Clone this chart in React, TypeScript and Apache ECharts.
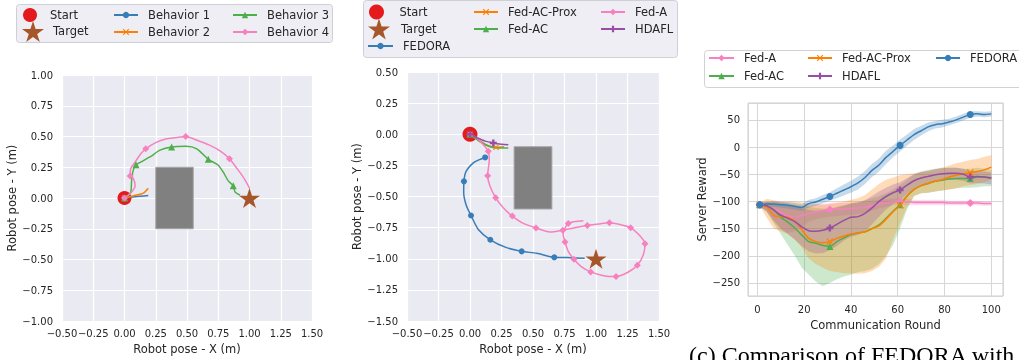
import React, { useEffect, useRef } from "react";
import * as echarts from "echarts";

// ---------- shared symbols / colours ----------
const STAR = "path://M50,0L61.23,34.55L97.55,34.55L68.17,55.9L79.39,90.45L50,69.1L20.61,90.45L31.83,55.9L2.45,34.55L38.77,34.55Z";
const PLUS = "path://M33,0H67V33H100V67H67V100H33V67H0V33H33Z";
const XMARK = "path://M0,12L12,0L50,38L88,0L100,12L62,50L100,88L88,100L50,62L12,100L0,88L38,50Z";
const COL = { blue: "#377eb8", orange: "#ff7f00", green: "#4daf4a", purple: "#984ea3", pink: "#f781bf", red: "#e41a1c", brown: "#a65628" };

// ---------- panel (a): behaviours ----------
const startA = [[0, 0]];
const targetA = [[1, 0]];
const obstacleA = [[0.25, 0.25], [0.55, -0.25]];
const behavior1 = [[0, 0], [0.08, 0.01], [0.19, 0.02]];
const behavior1Marks = [0];
const behavior2 = [[0, 0], [0.08, 0.02], [0.15, 0.04], [0.19, 0.08]];
const behavior2Marks = [0];
const behavior3 = [[0, 0], [0.05, 0.05], [0.057, 0.146], [0.07, 0.227], [0.092, 0.27], [0.204, 0.334], [0.284, 0.389], [0.377, 0.415], [0.492, 0.42], [0.578, 0.4], [0.67, 0.315], [0.75, 0.267], [0.79, 0.21], [0.83, 0.14], [0.87, 0.1], [0.884, 0.05], [0.924, 0.024]];
const behavior3Marks = [0, 4, 7, 10, 14];
const behavior4 = [[0, 0], [0.05, 0.04], [0.085, 0.1], [0.07, 0.16], [0.045, 0.18], [0.05, 0.24], [0.09, 0.3], [0.13, 0.36], [0.17, 0.4], [0.25, 0.45], [0.33, 0.48], [0.41, 0.49], [0.49, 0.5], [0.58, 0.47], [0.68, 0.43], [0.77, 0.38], [0.84, 0.32], [0.9, 0.24], [0.95, 0.17], [0.99, 0.1], [1.0, 0.08]];
const behavior4Marks = [0, 4, 8, 12, 16];

// ---------- panel (b): methods trajectories ----------
const startB = [[0, 0]];
const targetB = [[1, -1]];
const obstacleB = [[0.35, -0.1], [0.65, -0.6]];
const trajFedora = [[0.12, -0.186], [0.07, -0.205], [0.026, -0.23], [-0.032, -0.3], [-0.048, -0.378], [-0.05, -0.47], [-0.03, -0.57], [0.008, -0.652], [0.066, -0.764], [0.161, -0.847], [0.29, -0.91], [0.41, -0.94], [0.53, -0.956], [0.669, -0.988], [0.77, -0.99], [0.91, -0.996]];
const trajFedoraMarks = [0, 4, 7, 9, 11, 13];
const trajProx = [[0, 0], [0.07, -0.05], [0.14, -0.09], [0.206, -0.105], [0.27, -0.1]];
const trajProxMarks = [0, 3];
const trajFedAC = [[0, 0], [0.08, -0.06], [0.16, -0.1], [0.23, -0.11], [0.304, -0.11]];
const trajFedACMarks = [0];
const trajFedA = [[0, 0], [0.053, -0.03], [0.106, -0.084], [0.145, -0.137], [0.153, -0.204], [0.14, -0.332], [0.159, -0.418], [0.204, -0.51], [0.264, -0.59], [0.336, -0.657], [0.423, -0.716], [0.524, -0.753], [0.635, -0.785], [0.736, -0.77], [0.83, -0.75], [0.931, -0.732], [1.02, -0.72], [1.106, -0.711], [1.19, -0.725], [1.275, -0.751], [1.345, -0.81], [1.389, -0.879], [1.375, -0.97], [1.328, -1.052], [1.25, -1.11], [1.159, -1.142], [1.06, -1.135], [0.958, -1.105], [0.88, -1.06], [0.825, -1.004], [0.78, -0.94], [0.754, -0.865], [0.74, -0.8], [0.78, -0.716], [0.9, -0.695]];
const trajFedAMarks = [0, 3, 5, 7, 9, 11, 13, 15, 17, 19, 21, 23, 25, 27, 29, 31, 33];
const trajHdafl = [[0, 0], [0.06, -0.03], [0.12, -0.055], [0.185, -0.07], [0.25, -0.08], [0.304, -0.085]];
const trajHdaflMarks = [0, 3];

// ---------- panel (c): server reward ----------
const rounds = [1, 4, 7, 10, 13, 16, 19, 22, 25, 28, 31, 34, 37, 40, 43, 46, 49, 52, 55, 58, 61, 64, 67, 70, 73, 76, 79, 82, 85, 88, 91, 94, 97, 100];
const rewardMarks = [0, 10, 20, 30];
const fedoraMean = [-106, -105, -105, -106, -107, -109, -111, -104, -101, -96, -91, -85, -79, -73, -66, -56, -43, -33, -19, -8, 3, 13, 23, 30, 37, 41, 43, 46, 50, 55, 60, 61, 60, 61];
const fedoraLo = [-109, -109, -110, -111, -113, -115, -117, -111, -108, -104, -99, -94, -89, -84, -78, -68, -55, -45, -31, -19, -8, 3, 13, 21, 29, 34, 36, 40, 44, 49, 54, 56, 55, 56];
const fedoraHi = [-103, -101, -100, -101, -101, -103, -105, -97, -94, -88, -83, -76, -69, -62, -54, -44, -31, -21, -7, 3, 14, 23, 33, 39, 45, 48, 50, 52, 56, 61, 66, 66, 65, 66];
const fedAMean = [-106, -108, -113, -120, -127, -129, -126, -122, -119, -117, -115, -114, -114, -113, -112, -111, -108, -105, -103, -101, -100, -101, -102, -102, -102, -102, -102, -103, -103, -103, -103, -103, -104, -104];
const fedALo = [-109, -118, -138, -152, -158, -155, -146, -138, -133, -130, -128, -127, -126, -125, -123, -121, -117, -113, -110, -107, -106, -107, -107, -107, -107, -107, -107, -107, -107, -107, -107, -107, -108, -108];
const fedAHi = [-103, -101, -100, -100, -104, -108, -110, -108, -106, -105, -103, -102, -103, -102, -101, -101, -99, -97, -96, -95, -94, -95, -97, -97, -97, -97, -97, -99, -99, -99, -99, -99, -100, -100];
const fedACMean = [-106, -108, -115, -129, -138, -149, -162, -174, -177, -181, -183, -174, -167, -161, -158, -156, -150, -143, -131, -118, -106, -90, -78, -71, -67, -63, -61, -59, -58, -58, -58, -55, -55, -57];
const fedACLo = [-108, -120, -140, -160, -180, -200, -222, -235, -248, -256, -250, -243, -238, -235, -230, -228, -224, -215, -200, -180, -150, -115, -90, -85, -84, -82, -80, -78, -76, -75, -75, -74, -72, -72];
const fedACHi = [-104, -100, -100, -102, -104, -106, -108, -110, -112, -113, -113, -110, -107, -104, -102, -98, -94, -90, -85, -78, -70, -60, -50, -45, -42, -40, -38, -38, -38, -40, -40, -38, -40, -42];
const proxMean = [-106, -110, -126, -128, -129, -136, -152, -168, -174, -176, -174, -168, -164, -160, -158, -156, -150, -145, -133, -119, -107, -90, -78, -71, -67, -63, -60, -55, -52, -49, -47, -45, -42, -37];
const proxLo = [-108, -130, -150, -155, -160, -170, -185, -205, -215, -222, -228, -230, -232, -232, -233, -232, -228, -220, -205, -170, -140, -110, -90, -85, -84, -82, -80, -78, -76, -72, -70, -68, -65, -60];
const proxHi = [-104, -95, -98, -100, -100, -100, -102, -103, -105, -106, -105, -103, -100, -97, -94, -88, -78, -68, -60, -56, -52, -50, -48, -46, -44, -41, -38, -34, -30, -27, -24, -22, -18, -15];
const hdaflMean = [-106, -108, -116, -125, -131, -137, -147, -154, -155, -153, -149, -142, -135, -129, -128, -122, -112, -100, -91, -84, -79, -70, -62, -57, -54, -51, -49, -48, -48, -50, -55, -54, -55, -57];
const hdaflLo = [-109, -118, -135, -150, -160, -170, -182, -192, -196, -195, -190, -182, -172, -165, -162, -155, -142, -128, -115, -105, -98, -86, -76, -70, -66, -63, -61, -60, -60, -62, -67, -66, -67, -69];
const hdaflHi = [-103, -102, -104, -106, -108, -110, -113, -116, -117, -116, -114, -111, -108, -104, -102, -98, -90, -82, -75, -69, -65, -57, -50, -46, -44, -41, -39, -38, -38, -40, -45, -44, -45, -47];

const FONT = "DejaVu Sans";
const INK = "#262626";
const BAND_ALPHA = 0.28;

const fmt2 = (v: number) => (v < -1e-9 ? "\u2212" : "") + Math.abs(v).toFixed(2);
const fmtInt = (v: number) => (v < -1e-9 ? "\u2212" : "") + String(Math.abs(Math.round(v)));

function traj(name: string, pts: number[][], marks: number[], color: string, symbol: string, size: number, gi: number, z = 3): any {
  return {
    type: "line", name, xAxisIndex: gi, yAxisIndex: gi, data: pts, smooth: 0.25,
    symbol, symbolSize: (_v: any, p: any) => (marks.indexOf(p.dataIndex) >= 0 ? size : 0),
    showSymbol: true, showAllSymbol: true, symbolKeepAspect: true,
    lineStyle: { color, width: 1.5 }, itemStyle: { color, opacity: 1 }, z, silent: true,
  };
}

// shaded band between lo and hi, drawn as one polygon through the axes' scales
function band(key: string, lo: number[], hi: number[], color: string): any {
  return {
    type: "custom", name: key + " band", xAxisIndex: 2, yAxisIndex: 2, z: 2, silent: true,
    data: rounds.map((r, i) => [r, lo[i], hi[i]]),
    encode: { x: 0, y: [1, 2] },
    renderItem: (params: any, api: any) => {
      if (params.dataIndex !== 0) return null;
      const up = rounds.map((r, i) => api.coord([r, hi[i]]));
      const dn = rounds.map((r, i) => api.coord([r, lo[i]])).reverse();
      return { type: "polygon", shape: { points: up.concat(dn) }, style: { fill: color, opacity: BAND_ALPHA } };
    },
  };
}

function reward(name: string, mean: number[], color: string, symbol: string, size: number): any {
  return traj(name, rounds.map((r, i) => [r, mean[i]]), rewardMarks, color, symbol, size, 2, 3);
}

const LH = 14;
function legendItem(name: string, left: number, cy: number, w: number, h: number, pad: number, icon?: string): any {
  const H = Math.max(h, LH);
  return {
    show: true, orient: "horizontal", left, top: cy - H / 2, itemWidth: w, itemHeight: h, padding: 0,
    selectedMode: false, data: [icon ? { name, icon } : name],
    itemStyle: { opacity: 1 },
    textStyle: { fontFamily: FONT, fontSize: 11.5, color: INK, lineHeight: LH, padding: [0, 0, 0, pad] },
  };
}

function trajAxes(gi: number, xmin: number, xmax: number, ymin: number, ymax: number) {
  const common = {
    gridIndex: gi, type: "value", interval: 0.25,
    axisLine: { show: false }, axisTick: { show: false },
    splitLine: { show: true, lineStyle: { color: "#ffffff", width: 1.2 } },
    nameLocation: "middle",
    nameTextStyle: { fontFamily: FONT, fontSize: 11.5, color: INK },
  };
  return {
    x: { ...common, min: xmin, max: xmax, name: "Robot pose - X (m)", nameGap: 18, axisLabel: { formatter: fmt2, fontFamily: FONT, fontSize: 10, color: INK, margin: 7 } },
    y: { ...common, min: ymin, max: ymax, name: "Robot pose - Y (m)", nameGap: 43, axisLabel: { formatter: fmt2, fontFamily: FONT, fontSize: 10, color: INK, margin: 9 } },
  };
}

function marker(name: string, gi: number, data: number[][], symbol: string, size: number, color: string, z: number, obstacle?: number[][]): any {
  const s: any = {
    type: "scatter", name, xAxisIndex: gi, yAxisIndex: gi, data, symbol, symbolSize: size, symbolKeepAspect: true,
    itemStyle: { color, opacity: 1 }, z, silent: true,
  };
  if (obstacle) {
    s.markArea = { silent: true, itemStyle: { color: "#808080", opacity: 1, borderColor: "#a6a6a6", borderWidth: 1 }, data: [[{ coord: obstacle[0] }, { coord: obstacle[1] }]] };
  }
  return s;
}

export default function App() {
  const ref = useRef<HTMLDivElement>(null);
  useEffect(() => {
    if (!ref.current) return;
    const chart = echarts.init(ref.current, undefined, { renderer: "svg" });
    const a = trajAxes(0, -0.5, 1.5, -1, 1);
    const b = trajAxes(1, -0.5, 1.5, -1.5, 0.5);
    const option: any = {
      animation: false,
      textStyle: { fontFamily: FONT },
      grid: [
        { left: 62, top: 75, width: 250, height: 247, show: true, backgroundColor: "#eaeaf2", borderWidth: 0 },
        { left: 407, top: 72, width: 252, height: 250, show: true, backgroundColor: "#eaeaf2", borderWidth: 0 },
        { left: 748, top: 103, width: 255, height: 193, show: true, backgroundColor: "#ffffff", borderColor: "#cccccc", borderWidth: 1 },
      ],
      xAxis: [
        a.x, b.x,
        {
          gridIndex: 2, type: "value", min: -4, max: 105, splitNumber: 5,
          axisLine: { show: false }, axisTick: { show: false },
          splitLine: { show: true, lineStyle: { color: "#d6d6d6", width: 1 } },
          axisLabel: { fontFamily: FONT, fontSize: 10, color: INK, margin: 8, showMinLabel: false, showMaxLabel: false, formatter: fmtInt },
          name: "Communication Round", nameLocation: "middle", nameGap: 21,
          nameTextStyle: { fontFamily: FONT, fontSize: 11.5, color: INK },
        },
      ],
      yAxis: [
        a.y, b.y,
        {
          gridIndex: 2, type: "value", min: -274, max: 81, splitNumber: 7,
          axisLine: { show: false }, axisTick: { show: false },
          splitLine: { show: true, lineStyle: { color: "#d6d6d6", width: 1 } },
          axisLabel: { fontFamily: FONT, fontSize: 10, color: INK, margin: 8, showMinLabel: false, showMaxLabel: false, formatter: fmtInt },
          name: "Server Reward", nameLocation: "middle", nameGap: 40,
          nameTextStyle: { fontFamily: FONT, fontSize: 11.5, color: INK },
        },
      ],
      legend: [
        legendItem("Start", 23, 15, 20, 14, 5, "circle"),
        legendItem("Target", 22, 32, 22, 22, 4, STAR),
        legendItem("Behavior 1", 113, 15, 24, 8, 5),
        legendItem("Behavior 2", 113, 32, 24, 8, 5),
        legendItem("Behavior 3", 232, 15, 24, 8, 5),
        legendItem("Behavior 4", 232, 32, 24, 8, 5),
        legendItem("Start", 369, 12, 20, 15, 8, "circle"),
        legendItem("Target", 368, 29, 22, 21, 6, STAR),
        legendItem("FEDORA", 367, 46, 25, 8, 5),
        legendItem("Fed-AC-Prox", 473, 12, 24, 8, 5),
        legendItem("Fed-AC", 473, 29, 24, 8, 5),
        legendItem("Fed-A", 600, 12, 24, 8, 5),
        legendItem("HDAFL", 600, 29, 24, 8, 5),
        legendItem("Fed-A", 708, 58, 25, 8, 5),
        legendItem("Fed-AC", 708, 76, 25, 8, 5),
        legendItem("Fed-AC-Prox", 807, 58, 24, 8, 5),
        legendItem("HDAFL", 807, 76, 24, 8, 5),
        legendItem("FEDORA", 935, 58, 24, 8, 5),
      ],
      graphic: [
        { type: "rect", z: 1, shape: { x: 16.5, y: 4.5, width: 316, height: 38, r: 3 }, style: { fill: "#eeeef4", stroke: "#cfcfd6", lineWidth: 1 } },
        { type: "rect", z: 1, shape: { x: 363.5, y: 0.5, width: 314, height: 57, r: 3 }, style: { fill: "#eeeef4", stroke: "#cfcfd6", lineWidth: 1 } },
        { type: "rect", z: 1, shape: { x: 704.5, y: 50.5, width: 330, height: 37, r: 3 }, style: { fill: "#ffffff", stroke: "#d2d2d2", lineWidth: 1 } },
        { type: "text", z: 1, x: 689, y: 355, style: { text: "(c) Comparison of FEDORA with", fontFamily: "Liberation Serif", fontSize: 24, fill: "#000000", verticalAlign: "middle" } },
      ],
      series: [
        // panel (a)
        marker("Start", 0, startA, "circle", 14, COL.red, 2, obstacleA),
        marker("Target", 0, targetA, STAR, 21, COL.brown, 4),
        traj("Behavior 1", behavior1, behavior1Marks, COL.blue, "circle", 6, 0),
        traj("Behavior 2", behavior2, behavior2Marks, COL.orange, XMARK, 6, 0),
        traj("Behavior 3", behavior3, behavior3Marks, COL.green, "triangle", 7, 0),
        traj("Behavior 4", behavior4, behavior4Marks, COL.pink, "diamond", 7, 0),
        // panel (b)
        marker("Start", 1, startB, "circle", 15, COL.red, 2, obstacleB),
        marker("Target", 1, targetB, STAR, 21, COL.brown, 4),
        traj("FEDORA", trajFedora, trajFedoraMarks, COL.blue, "circle", 6, 1),
        traj("Fed-AC-Prox", trajProx, trajProxMarks, COL.orange, XMARK, 6, 1),
        traj("Fed-AC", trajFedAC, trajFedACMarks, COL.green, "triangle", 7, 1),
        traj("Fed-A", trajFedA, trajFedAMarks, COL.pink, "diamond", 7, 1),
        traj("HDAFL", trajHdafl, trajHdaflMarks, COL.purple, PLUS, 7, 1),
        // panel (c)
        band("Fed-A", fedALo, fedAHi, COL.pink),
        band("Fed-AC", fedACLo, fedACHi, COL.green),
        band("Fed-AC-Prox", proxLo, proxHi, COL.orange),
        band("HDAFL", hdaflLo, hdaflHi, COL.purple),
        band("FEDORA", fedoraLo, fedoraHi, COL.blue),
        reward("Fed-A", fedAMean, COL.pink, "diamond", 8),
        reward("Fed-AC", fedACMean, COL.green, "triangle", 7),
        reward("Fed-AC-Prox", proxMean, COL.orange, XMARK, 7),
        reward("HDAFL", hdaflMean, COL.purple, PLUS, 7),
        reward("FEDORA", fedoraMean, COL.blue, "circle", 7),
      ],
    };
    chart.setOption(option);
    return () => chart.dispose();
  }, []);
  return <div ref={ref} style={{ position: "fixed", left: 0, top: 0, width: 1019, height: 360 }} />;
}
